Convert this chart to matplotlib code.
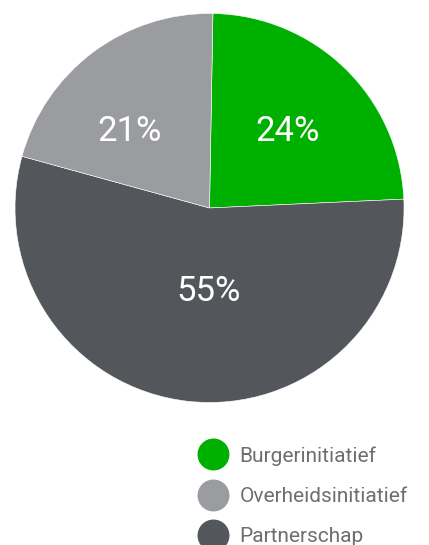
import matplotlib
matplotlib.use("Agg")
import matplotlib.pyplot as plt
from matplotlib.lines import Line2D
import numpy as np

categories = ["Burgerinitiatief", "Overheidsinitiatief", "Partnerschap"]
values = [24, 21, 55]
colors = ["#00b000", "#9b9c9f", "#53575b"]

# drawing order clockwise from top: Burger, Partnerschap, Overheids
order = [0, 2, 1]
vals = [values[i] for i in order]
cols = [colors[i] for i in order]

fig = plt.figure(figsize=(4.29, 5.45), dpi=100)
ax = fig.add_axes([0.035, 0.2615, 0.9068, 0.7138])
wedges, texts, autotexts = ax.pie(
    vals, colors=cols, startangle=89, counterclock=False,
    autopct=lambda p: f"{p:.0f}%", pctdistance=0.56,
    wedgeprops=dict(edgecolor="white", linewidth=0.4),
    textprops=dict(color="white", fontsize=25, family=["Roboto", "DejaVu Sans"]),
)
# fine-tune label placement (radius, angle in degrees)
label_layout = {0: (0.56, 44.4), 1: (0.427, -90.5), 2: (0.566, 136.3)}
for k, t in enumerate(autotexts):
    r, a = label_layout[k]
    t.set_position((r * np.cos(np.radians(a)), r * np.sin(np.radians(a))))
    t.set_va("center")
    t.set_ha("center")
ax.set_xlim(-1, 1)
ax.set_ylim(-1, 1)
ax.set_aspect("auto")
ax.axis("off")

handles = [Line2D([], [], marker="o", linestyle="none", markersize=22,
                  markerfacecolor=c, markeredgecolor=c) for c in colors]
leg = fig.legend(handles, categories, loc="upper left",
                 bbox_to_anchor=(203 / 429, 1 - 446 / 545), frameon=False,
                 borderpad=0, borderaxespad=0, handlelength=1.0,
                 handletextpad=0.75, labelspacing=1.03,
                 prop=dict(family=["Roboto", "DejaVu Sans"], size=15))
for t in leg.get_texts():
    t.set_color("#6e6e6e")

fig.savefig("out.png", dpi=100)
